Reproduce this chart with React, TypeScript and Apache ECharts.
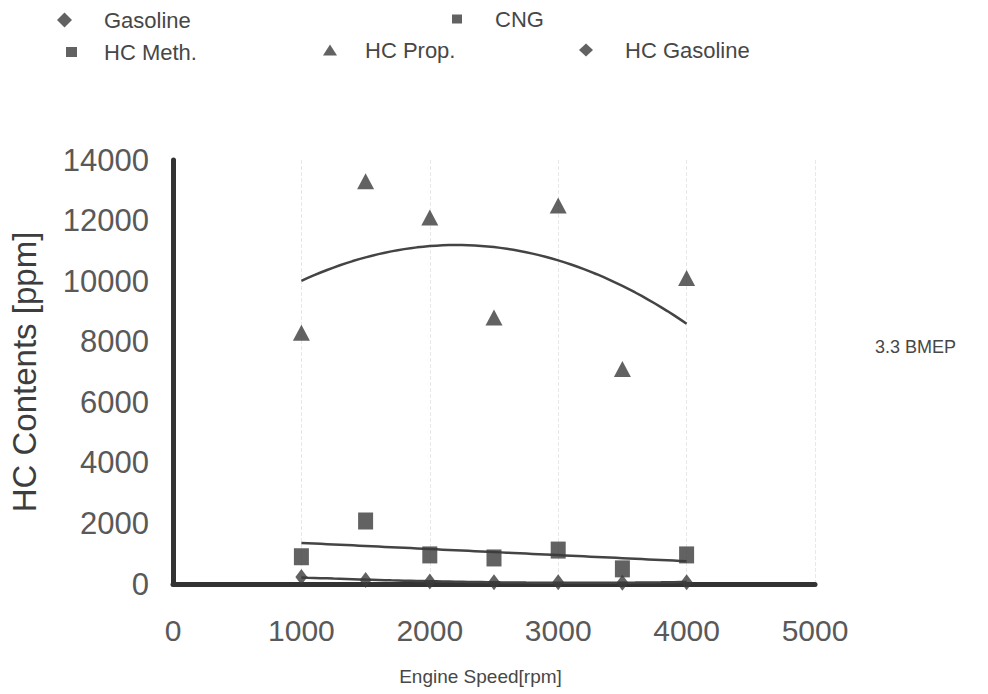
import React, { useEffect, useRef } from "react";
import * as echarts from "echarts";

const speeds = [1000, 1500, 2000, 2500, 3000, 3500, 4000];
const hcProp = [8300, 13300, 12100, 8800, 12500, 7100, 10100];
const hcMeth = [900, 2080, 960, 860, 1120, 500, 960];
const hcGasoline = [230, 130, 80, 60, 60, 40, 60];
const xTicks = [0, 1000, 2000, 3000, 4000, 5000];
const yTicks = [0, 2000, 4000, 6000, 8000, 10000, 12000, 14000];

// least squares polynomial fit (trendline), coefficients in powers of t (t = x/1000)
function polyFit(xs: number[], ys: number[], deg: number): number[] {
  const n = deg + 1;
  const A: number[][] = [];
  for (let i = 0; i < n; i++) A.push(new Array(n + 1).fill(0));
  xs.forEach((xv, k) => {
    const t = xv / 1000;
    for (let i = 0; i < n; i++) {
      for (let j = 0; j < n; j++) A[i][j] += Math.pow(t, i + j);
      A[i][n] += Math.pow(t, i) * ys[k];
    }
  });
  for (let i = 0; i < n; i++) {
    let p = i;
    for (let r = i + 1; r < n; r++) if (Math.abs(A[r][i]) > Math.abs(A[p][i])) p = r;
    [A[i], A[p]] = [A[p], A[i]];
    for (let r = 0; r < n; r++) {
      if (r === i) continue;
      const f = A[r][i] / A[i][i];
      for (let c = i; c <= n; c++) A[r][c] -= f * A[i][c];
    }
  }
  return A.map((row, i) => row[n] / row[i]);
}

function trend(ys: number[], deg: number): number[][] {
  const coef = polyFit(speeds, ys, deg);
  const pts: number[][] = [];
  const x0 = speeds[0];
  const x1 = speeds[speeds.length - 1];
  const steps = 60;
  for (let s = 0; s <= steps; s++) {
    const xv = x0 + ((x1 - x0) * s) / steps;
    const t = xv / 1000;
    let yv = 0;
    coef.forEach((c, i) => (yv += c * Math.pow(t, i)));
    pts.push([xv, yv]);
  }
  return pts;
}

const FONT = "Liberation Sans, Arial, sans-serif";
const MARK = "#3b3b3b";
const TXT = "#474747";

export default function App() {
  const ref = useRef<HTMLDivElement>(null);
  useEffect(() => {
    if (!ref.current) return;
    const chart = echarts.init(ref.current, null, { renderer: "svg" });
    const lt = (pad: number) => ({ fontSize: 22, color: TXT, fontFamily: FONT, padding: [0, 0, 0, pad] });
    const legendBase = { padding: 0, selectedMode: false, itemGap: 0 };
    chart.setOption({
      animation: false,
      backgroundColor: "#ffffff",
      textStyle: { fontFamily: FONT },
      grid: { left: 172, right: 173, top: 160, bottom: 110, containLabel: false },
      legend: [
        { ...legendBase, data: [{ name: "Gasoline", icon: "diamond" }], left: 57, top: 9, itemWidth: 15, itemHeight: 15, textStyle: lt(27) },
        { ...legendBase, data: [{ name: "CNG", icon: "rect" }], left: 452, top: 8, itemWidth: 10, itemHeight: 9, textStyle: lt(28) },
        { ...legendBase, data: [{ name: "HC Meth.", icon: "rect" }], left: 66, top: 41, itemWidth: 11, itemHeight: 10, textStyle: lt(22) },
        { ...legendBase, data: [{ name: "HC Prop.", icon: "triangle" }], left: 323, top: 39, itemWidth: 14, itemHeight: 11, textStyle: lt(23) },
        { ...legendBase, data: [{ name: "HC Gasoline", icon: "diamond" }], left: 579, top: 39, itemWidth: 14, itemHeight: 13, textStyle: lt(27) },
      ],
      xAxis: {
        type: "value",
        min: 0,
        max: 5000,
        interval: 1000,
        name: "Engine Speed[rpm]",
        nameLocation: "middle",
        nameGap: 83,
        nameTextStyle: { fontSize: 19, color: TXT, fontFamily: FONT, padding: [0, 27, 0, 0] },
        axisLine: { show: true, onZero: false, lineStyle: { color: "#333", width: 5 } },
        axisTick: { show: false },
        axisLabel: {
          fontSize: 30,
          color: "#595959",
          margin: 31,
          fontFamily: FONT,
          formatter: (v: number) => (xTicks.includes(v) ? String(v) : ""),
        },
        splitLine: { show: true, lineStyle: { color: "#e8e8e8", type: "dashed", width: 1 } },
      },
      yAxis: {
        type: "value",
        min: 0,
        max: 14000,
        interval: 2000,
        name: "HC Contents [ppm]",
        nameLocation: "middle",
        nameGap: 132,
        nameTextStyle: { fontSize: 33, color: "#3d3d3d", fontFamily: FONT },
        axisLine: { show: true, lineStyle: { color: "#333", width: 5 } },
        axisTick: { show: false },
        axisLabel: {
          fontSize: 31,
          color: "#595959",
          margin: 24,
          fontFamily: FONT,
          formatter: (v: number) => (yTicks.includes(v) ? String(v) : ""),
        },
        splitLine: { show: false },
      },
      series: [
        { name: "Gasoline", type: "scatter", data: [], symbol: "diamond", itemStyle: { color: MARK } },
        { name: "CNG", type: "scatter", data: [], symbol: "rect", itemStyle: { color: MARK } },
        {
          name: "HC Meth.",
          type: "scatter",
          symbol: "rect",
          symbolSize: [15, 17],
          itemStyle: { color: MARK },
          data: speeds.map((s, i) => [s, hcMeth[i]]),
          z: 3,
        },
        {
          name: "HC Prop.",
          type: "scatter",
          symbol: "triangle",
          symbolSize: [17, 16],
          itemStyle: { color: MARK },
          data: speeds.map((s, i) => [s, hcProp[i]]),
          z: 3,
        },
        {
          name: "HC Gasoline",
          type: "scatter",
          symbol: "diamond",
          symbolSize: [12, 16],
          itemStyle: { color: MARK },
          data: speeds.map((s, i) => [s, hcGasoline[i]]),
          z: 3,
        },
        {
          name: "Prop trend",
          type: "line",
          data: trend(hcProp, 2),
          showSymbol: false,
          lineStyle: { color: "#444", width: 2.5 },
          z: 2,
        },
        {
          name: "Meth trend",
          type: "line",
          data: trend(hcMeth, 1),
          showSymbol: false,
          lineStyle: { color: "#444", width: 2.5 },
          z: 2,
        },
        {
          name: "Gasoline trend",
          type: "line",
          data: trend(hcGasoline, 2),
          showSymbol: false,
          lineStyle: { color: "#444", width: 2.5 },
          z: 2,
        },
      ],
      graphic: [
        {
          type: "text",
          left: 875,
          top: 338,
          style: { text: "3.3 BMEP", fontSize: 18, fill: TXT, fontFamily: FONT },
        },
      ],
    });
    return () => chart.dispose();
  }, []);
  return <div ref={ref} style={{ width: 988, height: 694, position: "absolute", left: 0, top: 0 }} />;
}
